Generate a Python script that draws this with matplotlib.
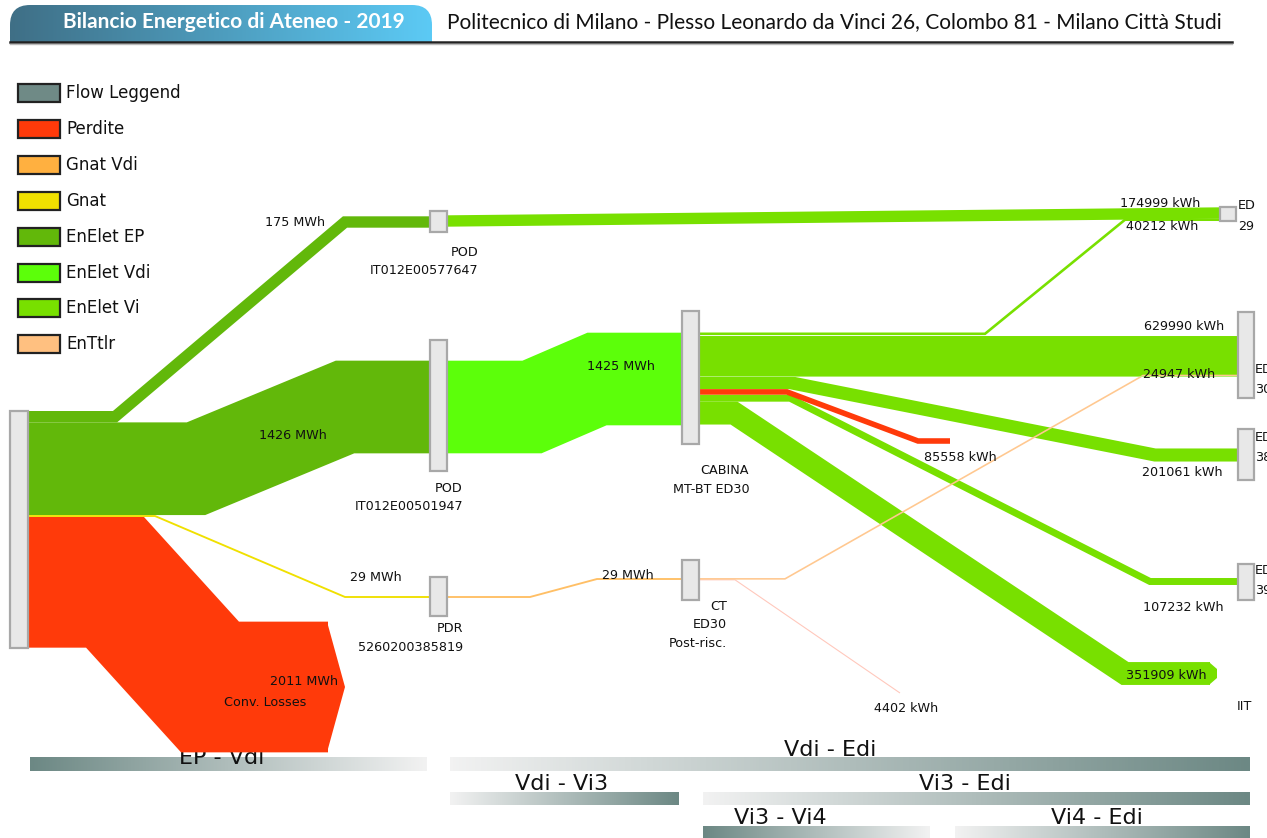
import numpy as np
import matplotlib.pyplot as plt
from matplotlib.patches import Rectangle, Polygon, FancyBboxPatch
from matplotlib.colors import LinearSegmentedColormap

# ---- dati ----
legenda_nomi = ['Flow Leggend', 'Perdite', 'Gnat Vdi', 'Gnat', 'EnElet EP',
                'EnElet Vdi', 'EnElet Vi', 'EnTtlr']
legenda_colori = ['#6f8a86', '#ff3a0a', '#ffb040', '#f0e000', '#62b80a',
                  '#5cff0a', '#78e000', '#ffc080']
colore = dict(zip(legenda_nomi, legenda_colori))

# flussi in uscita dalla sorgente (MWh), dall'alto verso il basso
sorgente_vettori = ['EnElet EP', 'EnElet EP', 'Gnat', 'Perdite']
sorgente_valori = [175, 1426, 29, 2011]

# flussi intermedi (MWh)
pod1_ed29 = 174.999
pod2_cabina = 1425
pdr_ct = 29

# flussi in uscita dalla cabina MT-BT ED30 (MWh)
cabina_vettori = ['EnElet Vi', 'EnElet Vi', 'EnElet Vi', 'Perdite', 'EnElet Vi', 'EnElet Vi']
cabina_valori = [40.212, 629.990, 201.061, 85.558, 107.232, 351.909]

# flussi in uscita dalla CT ED30 (MWh)
ct_valori = [24.947, 4.402]

# barre delle sezioni
sezioni = ['EP - Vdi', 'Vdi - Edi', 'Vdi - Vi3', 'Vi3 - Edi', 'Vi3 - Vi4', 'Vi4 - Edi']

SCALA = 0.065  # pixel per MWh
DPI = 100

fig = plt.figure(figsize=(12.67, 8.38), dpi=DPI)
ax = fig.add_axes([0, 0, 1, 1])
ax.set_xlim(0, 1267)
ax.set_ylim(838, 0)
ax.axis('off')


def flusso(xs, ys, valore, col, z=2, alpha=1.0, minimo=0.6):
    w = valore * SCALA
    ax.plot(xs, ys, color=col, lw=max(w, minimo) * 72 / DPI, alpha=alpha,
            solid_joinstyle='miter', solid_capstyle='butt', zorder=z)


def pila(top, valori):
    w = np.array(valori) * SCALA
    return top + np.cumsum(w) - w / 2


def nodo(x0, y0, x1, y1):
    ax.add_patch(Rectangle((x0, y0), x1 - x0, y1 - y0, facecolor='#e8e8e8',
                           edgecolor='#a8a8a8', lw=1.6, zorder=5))


def testo(x, y, s, ha='center', size=9.2, **kw):
    ax.text(x, y, s, ha=ha, va='center', fontsize=size, color='#111111', zorder=6, **kw)


# ---- intestazione ----
tab = FancyBboxPatch((10, 5), 422, 60, boxstyle='round,pad=0,rounding_size=20',
                     facecolor='none', edgecolor='none')
ax.add_patch(tab)
grad = LinearSegmentedColormap.from_list('tab', ['#3f6f86', '#5ccaf5'])
im = ax.imshow(np.linspace(0, 1, 256).reshape(1, -1), extent=[10, 432, 65, 5],
               cmap=grad, aspect='auto', zorder=1)
im.set_clip_path(tab)
ax.add_patch(Rectangle((0, 42), 450, 30, facecolor='white', edgecolor='none', zorder=1.5))
ax.plot([10, 1232], [42.5, 42.5], color='#222222', lw=1.8, zorder=2)
ax.plot([10, 1232], [44.5, 44.5], color='#bbbbbb', lw=1.0, zorder=2)
ax.text(234, 22, 'Bilancio Energetico di Ateneo - 2019', ha='center', va='center',
        color='white', fontsize=15, fontweight='bold', family='Lato', zorder=3)
ax.text(447, 22, 'Politecnico di Milano - Plesso Leonardo da Vinci 26, Colombo 81 - Milano Città Studi',
        ha='left', va='center', color='#111111', fontsize=15, family='Lato', zorder=3)

# ---- legenda ----
for i, (nome, col) in enumerate(zip(legenda_nomi, legenda_colori)):
    yc = 93.5 + i * 35.8
    ax.add_patch(Rectangle((18, yc - 9), 42, 18, facecolor=col, edgecolor='#222222',
                           lw=1.6, zorder=3))
    ax.text(66, yc, nome, ha='left', va='center', fontsize=12, color='#111111')

# ---- flussi dalla sorgente ----
src_top = 411
c = pila(src_top, sorgente_valori)
percorsi_src = [
    ([28, 115, 345, 430], [c[0], c[0], 222, 222]),
    ([28, 196, 345, 430], [c[1], c[1], 407, 407]),
    ([28, 155, 345, 430], [c[2], c[2], 597, 597]),
    ([28, 115, 210, 328], [c[3], c[3], 687, 687]),
]
for (xs, ys), v, vet in zip(percorsi_src, sorgente_valori, sorgente_vettori):
    flusso(xs, ys, v, colore[vet], z=2.5 if vet == 'Gnat' else 2)
# punta delle perdite di conversione
w_p = sorgente_valori[3] * SCALA
ax.add_patch(Polygon([(327, 687 - w_p / 2), (345, 687), (327, 687 + w_p / 2)],
                     closed=True, facecolor=colore['Perdite'], edgecolor='none', zorder=2))

# ---- flussi intermedi ----
flusso([447, 1220], [221, 213], pod1_ed29, colore['EnElet Vi'])
flusso([447, 532, 597, 682], [407, 407, 379, 379], pod2_cabina, colore['EnElet Vdi'])
flusso([447, 530, 597, 682], [597, 597, 579, 579], pdr_ct, colore['Gnat Vdi'], alpha=0.8)

# ---- flussi dalla cabina ----
cab_top = 332.5
c = pila(cab_top, cabina_valori)
percorsi_cab = [
    ([699, 985, 1125, 1220], [c[0], c[0], 219.7, 219.7]),
    ([699, 1238], [c[1], c[1]]),
    ([699, 790, 1155, 1238], [c[2], c[2], 455, 455]),
    ([699, 787, 918, 950], [c[3], c[3], 441, 441]),
    ([699, 790, 1150, 1238], [c[4], c[4], 581.5, 581.5]),
    ([699, 734, 1125, 1210], [c[5], c[5], 673.5, 673.5]),
]
for (xs, ys), v, vet in zip(percorsi_cab, cabina_valori, cabina_vettori):
    flusso(xs, ys, v, colore[vet], z=2.2 if vet == 'Perdite' else 2)
w_f = cabina_valori[5] * SCALA
ax.add_patch(Polygon([(1209, 673.5 - w_f / 2), (1217, 669), (1217, 678), (1209, 673.5 + w_f / 2)],
                     closed=True, facecolor=colore['EnElet Vi'], edgecolor='none', zorder=2))
# separazione sottile tra le bande
ax.plot([699, 1238], [c[1] + cabina_valori[1] * SCALA / 2] * 2, color='#b8f080', lw=0.6, zorder=2.1)

# ---- flussi dalla CT ----
c = pila(579 - sum(ct_valori) * SCALA / 2, ct_valori)
flusso([699, 785, 1143, 1238], [c[0], c[0], 375.5, 375.5], ct_valori[0], '#ffc890', z=2.05)
flusso([699, 735, 900], [c[1], c[1], 693], ct_valori[1], '#ffc8bc', minimo=1.1)

# ---- nodi ----
nodo(10, 411, 28, 648)
nodo(430, 211, 447, 232)
nodo(430, 340, 447, 471)
nodo(430, 577, 447, 616)
nodo(682, 311, 699, 444)
nodo(682, 560, 699, 600)
nodo(1220, 207, 1236, 221)
nodo(1238, 312, 1254, 398)
nodo(1238, 429, 1254, 480)
nodo(1238, 564, 1254, 600)

# ---- etichette ----
testo(295, 222, f'{sorgente_valori[0]} MWh')
testo(293, 435, f'{sorgente_valori[1]} MWh')
testo(376, 577, f'{sorgente_valori[2]} MWh')
testo(338, 681, f'{sorgente_valori[3]} MWh', ha='right')
testo(265, 702, 'Conv. Losses')
testo(621, 366, f'{pod2_cabina} MWh')
testo(628, 575, f'{pdr_ct} MWh')

testo(478, 252, 'POD', ha='right')
testo(478, 270, 'IT012E00577647', ha='right')
testo(462, 488, 'POD', ha='right')
testo(463, 506, 'IT012E00501947', ha='right')
testo(463, 628, 'PDR', ha='right')
testo(463, 647, '5260200385819', ha='right')
testo(749, 470, 'CABINA', ha='right')
testo(750, 489, 'MT-BT ED30', ha='right')
testo(727, 606, 'CT', ha='right')
testo(727, 624, 'ED30', ha='right')
testo(727, 643, 'Post-risc.', ha='right')

testo(1200, 203, f'{pod1_ed29 * 1000:.0f} kWh', ha='right')
testo(1198, 226, f'{cabina_valori[0] * 1000:.0f} kWh', ha='right')
testo(1224, 326, f'{cabina_valori[1] * 1000:.0f} kWh', ha='right')
testo(1215, 374, f'{ct_valori[0] * 1000:.0f} kWh', ha='right')
testo(1223, 472, f'{cabina_valori[2] * 1000:.0f} kWh', ha='right')
testo(997, 457, f'{cabina_valori[3] * 1000:.0f} kWh', ha='right')
testo(1224, 607, f'{cabina_valori[4] * 1000:.0f} kWh', ha='right')
testo(1207, 675, f'{cabina_valori[5] * 1000:.0f} kWh', ha='right')
testo(938, 708, f'{ct_valori[1] * 1000:.0f} kWh', ha='right')

testo(1238, 205, 'ED', ha='left')
testo(1238, 226, '29', ha='left')
# etichette degli edifici tagliate dal bordo destro, come nell'originale
for (ye, lab) in [(369, '30'), (437, '38'), (570, '39')]:
    testo(1255, ye, 'ED', ha='left')
    testo(1255, ye + 20, lab, ha='left')
testo(1237, 706, 'IIT', ha='left')

# ---- barre delle sezioni ----
scuro, chiaro = '#6c8884', '#f2f2f2'
barre = [  # x0, x1, y0, testo x, testo y, scuro a sinistra
    (30, 427, 758, 222, 758, True),
    (450, 1250, 758, 830, 750, False),
    (450, 679, 792, 562, 784, False),
    (703, 1250, 792, 965, 784, False),
    (703, 930, 826, 780, 818, True),
    (955, 1250, 826, 1097, 818, False),
]
for nome, (x0, x1, y0, tx, ty, sx) in zip(sezioni, barre):
    cm = LinearSegmentedColormap.from_list('b', [scuro, chiaro] if sx else [chiaro, scuro])
    ax.imshow(np.linspace(0, 1, 256).reshape(1, -1), extent=[x0, x1, y0 + 13, y0],
              cmap=cm, aspect='auto', zorder=1)
    ax.text(tx, ty, nome, ha='center', va='center', fontsize=16, color='#111111', zorder=1.2)

ax.set_xlim(0, 1267)
ax.set_ylim(838, 0)
fig.savefig('out.png', dpi=DPI)
